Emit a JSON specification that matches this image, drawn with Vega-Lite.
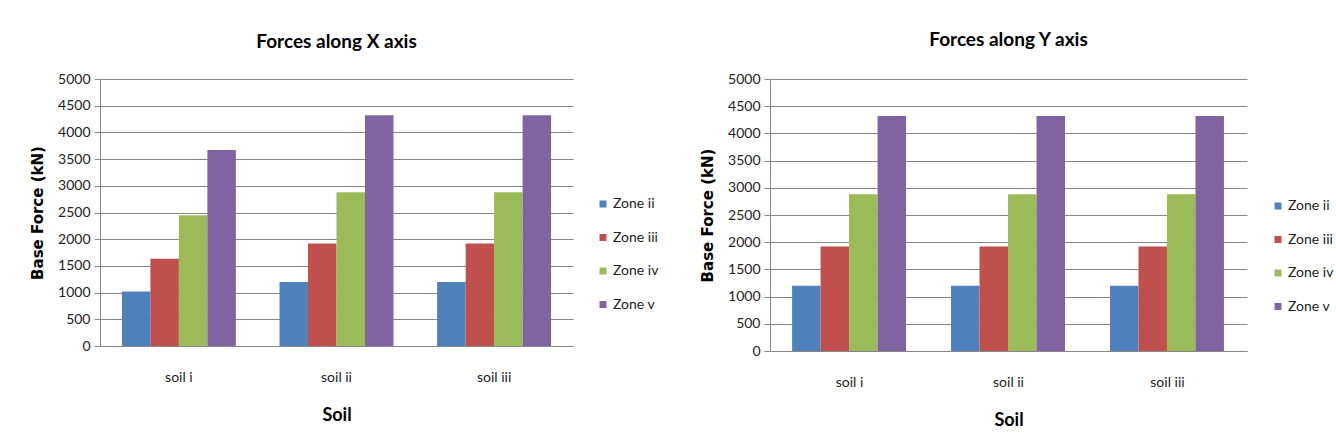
{
  "$schema": "https://vega.github.io/schema/vega-lite/v6.json",
  "background": "white",
  "padding": {"left": 30, "top": 31, "right": 0, "bottom": 0},
  "data": {
    "values": [
      {"dir": "X", "soil": "soil i", "zone": "Zone ii", "force": 1020},
      {"dir": "X", "soil": "soil i", "zone": "Zone iii", "force": 1632},
      {"dir": "X", "soil": "soil i", "zone": "Zone iv", "force": 2448},
      {"dir": "X", "soil": "soil i", "zone": "Zone v", "force": 3672},
      {"dir": "X", "soil": "soil ii", "zone": "Zone ii", "force": 1200},
      {"dir": "X", "soil": "soil ii", "zone": "Zone iii", "force": 1920},
      {"dir": "X", "soil": "soil ii", "zone": "Zone iv", "force": 2880},
      {"dir": "X", "soil": "soil ii", "zone": "Zone v", "force": 4320},
      {"dir": "X", "soil": "soil iii", "zone": "Zone ii", "force": 1200},
      {"dir": "X", "soil": "soil iii", "zone": "Zone iii", "force": 1920},
      {"dir": "X", "soil": "soil iii", "zone": "Zone iv", "force": 2880},
      {"dir": "X", "soil": "soil iii", "zone": "Zone v", "force": 4320},
      {"dir": "Y", "soil": "soil i", "zone": "Zone ii", "force": 1200},
      {"dir": "Y", "soil": "soil i", "zone": "Zone iii", "force": 1920},
      {"dir": "Y", "soil": "soil i", "zone": "Zone iv", "force": 2880},
      {"dir": "Y", "soil": "soil i", "zone": "Zone v", "force": 4320},
      {"dir": "Y", "soil": "soil ii", "zone": "Zone ii", "force": 1200},
      {"dir": "Y", "soil": "soil ii", "zone": "Zone iii", "force": 1920},
      {"dir": "Y", "soil": "soil ii", "zone": "Zone iv", "force": 2880},
      {"dir": "Y", "soil": "soil ii", "zone": "Zone v", "force": 4320},
      {"dir": "Y", "soil": "soil iii", "zone": "Zone ii", "force": 1200},
      {"dir": "Y", "soil": "soil iii", "zone": "Zone iii", "force": 1920},
      {"dir": "Y", "soil": "soil iii", "zone": "Zone iv", "force": 2880},
      {"dir": "Y", "soil": "soil iii", "zone": "Zone v", "force": 4320}
    ]
  },
  "spacing": 41,
  "hconcat": [
    {
      "width": 473,
      "height": 267,
      "title": {"text": "Forces along X axis", "offset": 20},
      "transform": [{"filter": "datum.dir === 'X'"}],
      "mark": {"type": "bar"},
      "encoding": {
        "x": {"field": "soil", "type": "nominal", "sort": ["soil i", "soil ii", "soil iii"],
              "scale": {"paddingInner": 0.277, "paddingOuter": 0.139},
              "axis": {"title": "Soil"}},
        "xOffset": {"field": "zone", "type": "nominal", "sort": ["Zone ii", "Zone iii", "Zone iv", "Zone v"],
                    "scale": {"paddingInner": 0, "paddingOuter": 0}},
        "y": {"field": "force", "type": "quantitative", "scale": {"domain": [0, 5000]},
              "axis": {"title": "Base Force (kN)", "format": "d", "values": [0, 500, 1000, 1500, 2000, 2500, 3000, 3500, 4000, 4500, 5000]}},
        "color": {"field": "zone", "type": "nominal",
                  "scale": {"domain": ["Zone ii", "Zone iii", "Zone iv", "Zone v"], "range": ["#4F81BD", "#C0504D", "#9BBB59", "#8064A2"]},
                  "legend": {"title": null, "orient": "none", "legendX": 496, "legendY": 118}}
      }
    },
    {
      "width": 477,
      "height": 272,
      "title": {"text": "Forces along Y axis", "offset": 22},
      "transform": [{"filter": "datum.dir === 'Y'"}],
      "mark": {"type": "bar"},
      "encoding": {
        "x": {"field": "soil", "type": "nominal", "sort": ["soil i", "soil ii", "soil iii"],
              "scale": {"paddingInner": 0.277, "paddingOuter": 0.139},
              "axis": {"title": "Soil"}},
        "xOffset": {"field": "zone", "type": "nominal", "sort": ["Zone ii", "Zone iii", "Zone iv", "Zone v"],
                    "scale": {"paddingInner": 0, "paddingOuter": 0}},
        "y": {"field": "force", "type": "quantitative", "scale": {"domain": [0, 5000]},
              "axis": {"title": "Base Force (kN)", "format": "d", "values": [0, 500, 1000, 1500, 2000, 2500, 3000, 3500, 4000, 4500, 5000]}},
        "color": {"field": "zone", "type": "nominal",
                  "scale": {"domain": ["Zone ii", "Zone iii", "Zone iv", "Zone v"], "range": ["#4F81BD", "#C0504D", "#9BBB59", "#8064A2"]},
                  "legend": {"title": null, "orient": "none", "legendX": 501, "legendY": 120}}
      }
    }
  ],
  "resolve": {"scale": {"color": "independent", "y": "independent", "x": "independent"}, "legend": {"color": "independent"}},
  "config": {
    "font": "Lato",
    "view": {"stroke": null},
    "title": {"font": "Lato", "fontSize": 19, "fontWeight": "bold", "color": "#000000", "anchor": "middle"},
    "axis": {
      "labelFont": "Lato", "labelFontSize": 14, "labelColor": "#222222",
      "domainColor": "#868686", "tickColor": "#868686", "gridColor": "#868686", "gridOpacity": 1
    },
    "axisX": {
      "labelAngle": 0, "ticks": false, "grid": false, "labelPadding": 24,
      "titleFont": "Lato", "titleFontSize": 18, "titleFontWeight": "bold", "titleColor": "#000000", "titlePadding": 22
    },
    "axisY": {
      "grid": true, "tickSize": 6, "labelPadding": 4, "domain": true,
      "titleFont": "DejaVu Sans", "titleFontSize": 15, "titleFontWeight": "bold", "titleColor": "#000000", "titlePadding": 12
    },
    "legend": {
      "labelFont": "Lato", "labelFontSize": 14, "labelColor": "#222222",
      "symbolType": "square", "symbolSize": 49, "symbolStrokeWidth": 0, "rowPadding": 19.5, "labelOffset": 3, "padding": 0
    }
  }
}
